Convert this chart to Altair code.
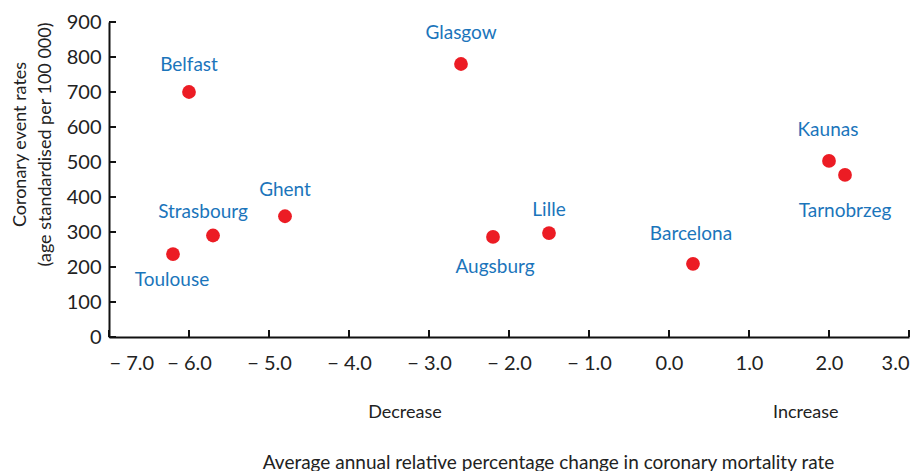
import altair as alt
import pandas as pd

cities = ["Belfast", "Glasgow", "Ghent", "Strasbourg", "Toulouse",
          "Augsburg", "Lille", "Barcelona", "Kaunas", "Tarnobrzeg"]
change = [-6.0, -2.6, -4.8, -5.7, -6.2, -2.2, -1.5, 0.3, 2.0, 2.2]
rate = [700, 780, 345, 290, 237, 286, 297, 209, 503, 463]

x_ticks = [-7, -6, -5, -4, -3, -2, -1, 0, 1, 2, 3]
y_ticks = [0, 100, 200, 300, 400, 500, 600, 700, 800, 900]

direction_text = ["Decrease", "Increase"]
direction_x = [-3.3, 1.71]

# label placement (styling): dx, dy in pixels
label_offsets = {
    "Belfast": (0, -27), "Glasgow": (0, -31), "Ghent": (0, -26),
    "Strasbourg": (-10, -24), "Toulouse": (-1, 26), "Augsburg": (2, 30),
    "Lille": (0, -23), "Barcelona": (-2, -30), "Kaunas": (-1, -31),
    "Tarnobrzeg": (0, 36),
}

FONT = "Lato"
W, H = 800, 315
df = pd.DataFrame({"city": cities, "change": change, "rate": rate})

xscale = alt.Scale(domain=[-7, 3], nice=False, zero=False)
yscale = alt.Scale(domain=[0, 900], nice=False)

x_axis = alt.Axis(
    values=x_ticks, grid=False, ticks=False, domain=True,
    domainColor="#111", domainWidth=2, labelOverlap=False,
    labelExpr="datum.value < 0 ? '\u2212 ' + format(abs(datum.value), '.1f') : format(datum.value, '.1f')",
    labelFont=FONT, labelFontSize=20, labelColor="#222", labelPadding=16,
    title="Average annual relative percentage change in coronary mortality rate",
    titleFont=FONT, titleFontSize=19, titleFontWeight="normal", titleColor="#222",
    titleX=439, titleY=125, titleAnchor="middle", titleAlign="center",
    titleBaseline="middle",
)
y_axis = alt.Axis(
    values=y_ticks, grid=False, ticks=False, domain=True,
    domainColor="#111", domainWidth=2, labelOverlap=False,
    labelFont=FONT, labelFontSize=20, labelColor="#222", labelPadding=8,
    title=["Coronary event rates", "(age standardised per 100 000)"],
    titleFont=FONT, titleFontSize=18, titleFontWeight="normal", titleColor="#222",
    titleX=-89, titleY=122, titleAlign="center", titleBaseline="middle",
    titleLineHeight=25,
)


def X(field):
    return alt.X(field, type="quantitative", scale=xscale, axis=x_axis)


def Y(field):
    return alt.Y(field, type="quantitative", scale=yscale, axis=y_axis)


points = alt.Chart(df).mark_circle(size=190, color="#ec1c24", opacity=1).encode(
    x=X("change"), y=Y("rate"),
)

layers = [points]
for c in cities:
    dx, dy = label_offsets[c]
    layers.append(
        alt.Chart(df).transform_filter(alt.datum.city == c)
        .mark_text(font=FONT, fontSize=19, color="#1b75bb", dx=dx, dy=dy,
                   baseline="middle", align="center")
        .encode(x=X("change"), y=Y("rate"), text="city:N")
    )

# inward tick marks
yt = pd.DataFrame({"v": y_ticks})
xt = pd.DataFrame({"v": x_ticks})
layers.append(
    alt.Chart(yt).mark_rule(color="#111", strokeWidth=2).encode(
        y=Y("v"), x=alt.value(0), x2=alt.value(7))
)
layers.append(
    alt.Chart(xt).mark_rule(color="#111", strokeWidth=2).encode(
        x=X("v"), y=alt.value(H), y2=alt.value(H - 7))
)

# direction annotations
ann = pd.DataFrame({"t": direction_text, "v": direction_x})
layers.append(
    alt.Chart(ann).mark_text(font=FONT, fontSize=18, color="#222",
                             baseline="middle", align="center").encode(
        x=X("v"), y=alt.value(H + 76), text="t:N")
)

chart = alt.layer(*layers).properties(
    width=W, height=H, autosize="none",
    padding={"left": 101, "top": 14, "right": 4, "bottom": 140},
).configure_view(stroke=None)

chart.save("out.html", embed_options={"renderer": "svg", "actions": False})
